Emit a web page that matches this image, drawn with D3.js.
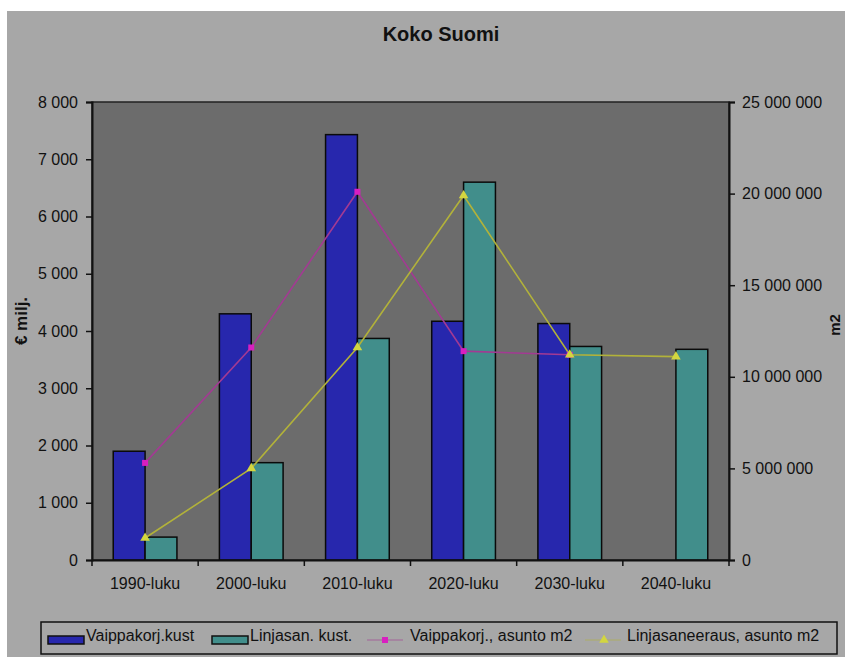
<!DOCTYPE html>
<html>
<head>
<meta charset="utf-8">
<script src="https://cdn.jsdelivr.net/npm/d3@7"></script>
<style>
  html, body { margin: 0; padding: 0; background: #ffffff; }
  svg { display: block; }
  text { font-family: "Liberation Sans", Arial, sans-serif; fill: #111; }
</style>
</head>
<body>
<script>
// ---- Data ----
const categories = ["1990-luku", "2000-luku", "2010-luku", "2020-luku", "2030-luku", "2040-luku"];
const vaippaKust = [1900, 4300, 7430, 4170, 4130, null];        // € milj.
const linjaKust  = [400, 1700, 3870, 6600, 3730, 3680];         // € milj.
const vaippaM2   = [5300000, 11600000, 20100000, 11400000, 11200000, null];  // m2
const linjaM2    = [1200000, 5000000, 11600000, 19900000, 11200000, 11100000]; // m2
const leftTicks  = [0, 1000, 2000, 3000, 4000, 5000, 6000, 7000, 8000];
const rightTicks = [0, 5000000, 10000000, 15000000, 20000000, 25000000];
const barSeries  = ["Vaippakorj.kust", "Linjasan. kust."];
const lineSeries = ["Vaippakorj., asunto m2", "Linjasaneeraus, asunto m2"];

const W = 845, H = 657;
const plot = { left: 92, right: 729, top: 102, bottom: 560 };
const colors = { bg: "#a7a7a7", plot: "#6c6c6c", blue: "#2727ad", teal: "#418e8b",
                 magLine: "#a33a93", magMark: "#d81fc0", yelLine: "#b2b23a", yelMark: "#d3d640" };

const fi = d3.formatLocale({ decimal: ",", thousands: "\u00a0", grouping: [3], currency: ["", " €"] });
const fmt = fi.format(",d");

const svg = d3.select("body").append("svg").attr("width", W).attr("height", H);

// background
svg.append("rect").attr("x", 7).attr("y", 11).attr("width", W - 7).attr("height", H - 11).attr("fill", colors.bg);

// scales
const x0 = d3.scaleBand().domain(categories).range([plot.left, plot.right]).padding(0);
const x1 = d3.scaleBand().domain(barSeries).range([x0.bandwidth() * 0.2, x0.bandwidth() * 0.8]).padding(0);
const yL = d3.scaleLinear().domain([0, 8000]).range([plot.bottom, plot.top]);
const yR = d3.scaleLinear().domain([0, 25000000]).range([plot.bottom, plot.top]);

// plot area
svg.append("rect").attr("x", plot.left).attr("y", plot.top)
  .attr("width", plot.right - plot.left).attr("height", plot.bottom - plot.top)
  .attr("fill", colors.plot).attr("stroke", "#222").attr("stroke-width", 1.5);

// title
svg.append("text").attr("x", 441).attr("y", 41).attr("text-anchor", "middle")
  .style("font-size", "20px").style("font-weight", "bold").text("Koko Suomi");

// bars
const barData = [];
categories.forEach((c, i) => {
  barData.push({ c, s: barSeries[0], v: vaippaKust[i], fill: colors.blue });
  barData.push({ c, s: barSeries[1], v: linjaKust[i], fill: colors.teal });
});
svg.append("g").selectAll("rect").data(barData.filter(d => d.v != null)).join("rect")
  .attr("x", d => x0(d.c) + x1(d.s))
  .attr("y", d => yL(d.v))
  .attr("width", x1.bandwidth())
  .attr("height", d => yL(0) - yL(d.v))
  .attr("fill", d => d.fill)
  .attr("stroke", "#0a0a0a").attr("stroke-width", 1.5);

// lines
const cx = c => x0(c) + x0.bandwidth() / 2;
const lineGen = d3.line().defined(d => d.v != null).x(d => cx(d.c)).y(d => yR(d.v));
const magData = categories.map((c, i) => ({ c, v: vaippaM2[i] }));
const yelData = categories.map((c, i) => ({ c, v: linjaM2[i] }));

svg.append("path").datum(magData).attr("d", lineGen).attr("fill", "none")
  .attr("stroke", colors.magLine).attr("stroke-width", 1.6);
svg.append("path").datum(yelData).attr("d", lineGen).attr("fill", "none")
  .attr("stroke", colors.yelLine).attr("stroke-width", 1.6);

svg.append("g").selectAll("rect").data(magData.filter(d => d.v != null)).join("rect")
  .attr("x", d => cx(d.c) - 3).attr("y", d => yR(d.v) - 3)
  .attr("width", 6).attr("height", 6).attr("fill", colors.magMark);
const tri = d3.symbol().type(d3.symbolTriangle).size(40);
svg.append("g").selectAll("path").data(yelData.filter(d => d.v != null)).join("path")
  .attr("transform", d => `translate(${cx(d.c)},${yR(d.v)})`)
  .attr("d", tri).attr("fill", colors.yelMark);

// left axis
const axL = svg.append("g").attr("transform", `translate(${plot.left},0)`)
  .call(d3.axisLeft(yL).tickValues(leftTicks).tickFormat(fmt).tickSize(6).tickPadding(8));
// right axis
const axR = svg.append("g").attr("transform", `translate(${plot.right},0)`)
  .call(d3.axisRight(yR).tickValues(rightTicks).tickFormat(fmt).tickSize(6).tickPadding(7));
// bottom axis (labels)
const axB = svg.append("g").attr("transform", `translate(0,${plot.bottom})`)
  .call(d3.axisBottom(x0).tickSize(0).tickPadding(18));
// bottom ticks at category boundaries
const bounds = categories.map(c => x0(c)).concat([plot.right]);
svg.append("g").selectAll("line").data(bounds).join("line")
  .attr("x1", d => d).attr("x2", d => d).attr("y1", plot.bottom).attr("y2", plot.bottom + 6)
  .attr("stroke", "#111").attr("stroke-width", 1.5);

[axL, axR, axB].forEach(a => {
  a.selectAll(".domain").attr("stroke", "#111").attr("stroke-width", 2);
  a.selectAll(".tick line").attr("stroke", "#111").attr("stroke-width", 1.5);
  a.selectAll(".tick text").style("font-size", "16px").style("font-family", "'Liberation Sans', Arial, sans-serif").attr("fill", "#111");
});

// axis titles
svg.append("text").attr("transform", "translate(27,321) rotate(-90)").attr("text-anchor", "middle")
  .style("font-size", "17px").style("font-weight", "bold").text("€ milj.");
svg.append("text").attr("transform", "translate(840,325) rotate(-90)").attr("text-anchor", "middle")
  .style("font-size", "15px").style("font-weight", "bold").text("m2");

// legend
const lg = svg.append("g");
lg.append("rect").attr("x", 41).attr("y", 622).attr("width", 796).attr("height", 32)
  .attr("fill", "none").attr("stroke", "#111").attr("stroke-width", 1.5);
const ly = 639;
const legendItems = [
  { type: "bar", label: barSeries[0], fill: colors.blue, sx: 48, tx: 86 },
  { type: "bar", label: barSeries[1], fill: colors.teal, sx: 212, tx: 250 },
  { type: "line", label: lineSeries[0], stroke: colors.magLine, mark: colors.magMark, sx: 367, tx: 410 },
  { type: "line", label: lineSeries[1], stroke: colors.yelLine, mark: colors.yelMark, sx: 585, tx: 627 }
];
legendItems.forEach(it => {
  if (it.type === "bar") {
    lg.append("rect").attr("x", it.sx).attr("y", ly - 3).attr("width", 36).attr("height", 8)
      .attr("fill", it.fill).attr("stroke", "#111").attr("stroke-width", 1.5);
  } else {
    lg.append("line").attr("x1", it.sx).attr("x2", it.sx + 36).attr("y1", ly + 1).attr("y2", ly + 1)
      .attr("stroke", it.stroke).attr("stroke-width", 1.2).attr("opacity", 0.6);
    if (it.mark === colors.magMark) {
      lg.append("rect").attr("x", it.sx + 15).attr("y", ly - 2).attr("width", 6).attr("height", 6).attr("fill", it.mark);
    } else {
      lg.append("path").attr("transform", `translate(${it.sx + 19},${ly + 1})`).attr("d", tri).attr("fill", it.mark);
    }
  }
  lg.append("text").attr("x", it.tx).attr("y", ly - 2).attr("dominant-baseline", "middle")
    .style("font-size", "16px").text(it.label);
});
</script>
</body>
</html>
